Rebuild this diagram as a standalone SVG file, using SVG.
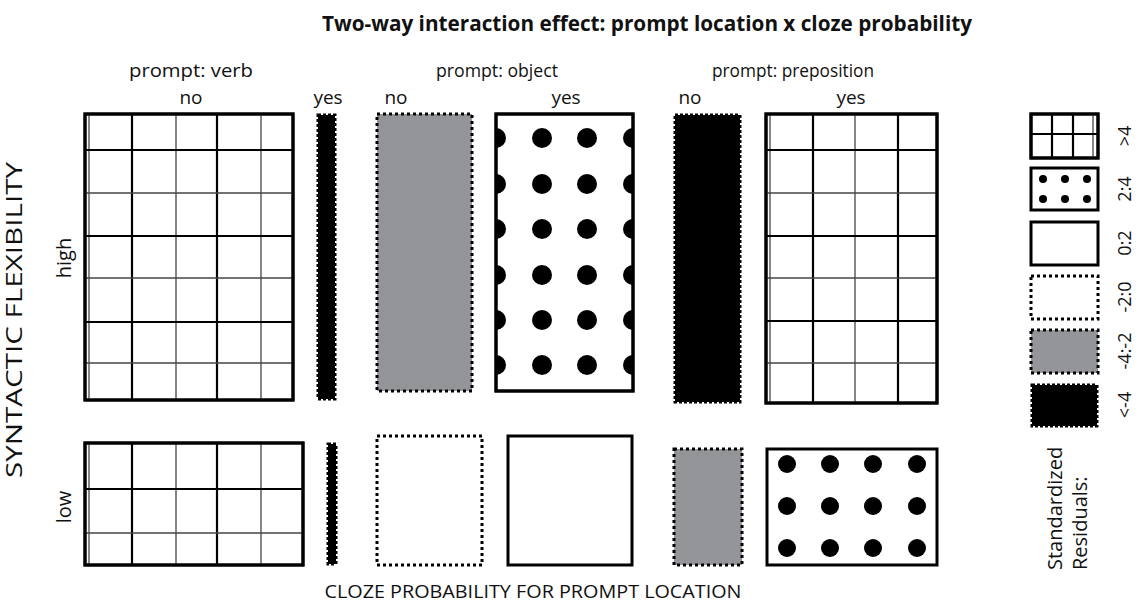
<svg xmlns="http://www.w3.org/2000/svg" width="1139" height="606" viewBox="0 0 1139 606">
<style>
text{font-family:"Open Sans","Liberation Sans",sans-serif;fill:#111}
.title{font-size:22px;font-weight:bold}
.lbl{font-size:18px}
.big{font-size:19px}
.solid{fill:#fff;stroke:#000;stroke-width:3}
.dotted{fill:#fff;stroke:#000;stroke-width:3;stroke-dasharray:3 3}
.grayd{fill:#939598;stroke:#000;stroke-width:3;stroke-dasharray:3 3}
.blackd{fill:#000;stroke:#000;stroke-width:3;stroke-dasharray:3 2}
.thick{stroke:#000;stroke-width:2.2}
.thin{stroke:#444;stroke-width:1.3}
.dot{fill:#000}
</style>
<defs>
<clipPath id="cObjYes"><rect x="496" y="114" width="137" height="277"/></clipPath>
</defs>
<text class="title" x="647" y="31" text-anchor="middle" textLength="650" lengthAdjust="spacingAndGlyphs">Two-way interaction effect: prompt location x cloze probability</text>
<g id="headers">
<text class="big" x="191" y="77" text-anchor="middle" textLength="124" lengthAdjust="spacingAndGlyphs">prompt: verb</text>
<text class="big" x="497" y="77" text-anchor="middle" textLength="122" lengthAdjust="spacingAndGlyphs">prompt: object</text>
<text class="big" x="793" y="77" text-anchor="middle" textLength="162" lengthAdjust="spacingAndGlyphs">prompt: preposition</text>
<text class="big" x="191" y="104" text-anchor="middle">no</text>
<text class="big" x="328" y="104" text-anchor="middle">yes</text>
<text class="big" x="396" y="104" text-anchor="middle">no</text>
<text class="big" x="566" y="104" text-anchor="middle">yes</text>
<text class="big" x="690" y="104" text-anchor="middle">no</text>
<text class="big" x="851" y="104" text-anchor="middle">yes</text>
</g>
<g id="axis-labels">
<text transform="translate(22,320) rotate(-90)" font-size="21" text-anchor="middle" textLength="316" lengthAdjust="spacingAndGlyphs">SYNTACTIC FLEXIBILITY</text>
<text transform="translate(71,258) rotate(-90)" font-size="20" text-anchor="middle">high</text>
<text transform="translate(71,507) rotate(-90)" font-size="20" text-anchor="middle">low</text>
<text class="lbl" x="533" y="598" text-anchor="middle" textLength="417" lengthAdjust="spacingAndGlyphs">CLOZE PROBABILITY FOR PROMPT LOCATION</text>
</g>
<g id="verb-no-high">
<rect class="solid" x="85" y="114" width="208" height="286"/>
<line class="thin" x1="89" y1="114" x2="89" y2="400"/>
<line class="thick" x1="132" y1="114" x2="132" y2="400"/>
<line class="thin" x1="176" y1="114" x2="176" y2="400"/>
<line class="thick" x1="217" y1="114" x2="217" y2="400"/>
<line class="thin" x1="261" y1="114" x2="261" y2="400"/>
<line class="thick" x1="85" y1="150" x2="293" y2="150"/>
<line class="thin" x1="85" y1="193" x2="293" y2="193"/>
<line class="thick" x1="85" y1="236" x2="293" y2="236"/>
<line class="thin" x1="85" y1="278" x2="293" y2="278"/>
<line class="thick" x1="85" y1="322" x2="293" y2="322"/>
<line class="thin" x1="85" y1="363" x2="293" y2="363"/>
<rect x="85" y="114" width="208" height="286" fill="none" stroke="#000" stroke-width="3"/>
</g>
<g id="verb-yes-high"><rect class="blackd" x="318" y="115" width="17" height="284"/></g>
<g id="object-no-high"><rect class="grayd" x="377" y="114" width="95" height="277"/></g>
<g id="object-yes-high">
<rect class="solid" x="496" y="114" width="137" height="277"/>
<g clip-path="url(#cObjYes)">
<circle class="dot" cx="496" cy="138" r="10"/><circle class="dot" cx="542" cy="138" r="10"/><circle class="dot" cx="587" cy="138" r="10"/><circle class="dot" cx="633" cy="138" r="10"/>
<circle class="dot" cx="496" cy="184" r="10"/><circle class="dot" cx="542" cy="184" r="10"/><circle class="dot" cx="587" cy="184" r="10"/><circle class="dot" cx="633" cy="184" r="10"/>
<circle class="dot" cx="496" cy="229" r="10"/><circle class="dot" cx="542" cy="229" r="10"/><circle class="dot" cx="587" cy="229" r="10"/><circle class="dot" cx="633" cy="229" r="10"/>
<circle class="dot" cx="496" cy="275" r="10"/><circle class="dot" cx="542" cy="275" r="10"/><circle class="dot" cx="587" cy="275" r="10"/><circle class="dot" cx="633" cy="275" r="10"/>
<circle class="dot" cx="496" cy="320" r="10"/><circle class="dot" cx="542" cy="320" r="10"/><circle class="dot" cx="587" cy="320" r="10"/><circle class="dot" cx="633" cy="320" r="10"/>
<circle class="dot" cx="496" cy="365" r="10"/><circle class="dot" cx="542" cy="365" r="10"/><circle class="dot" cx="587" cy="365" r="10"/><circle class="dot" cx="633" cy="365" r="10"/>
</g>
<rect x="496" y="114" width="137" height="277" fill="none" stroke="#000" stroke-width="3"/>
</g>
<g id="prep-no-high"><rect class="blackd" x="675" y="115" width="65" height="287"/></g>
<g id="prep-yes-high">
<rect class="solid" x="766" y="114" width="171" height="289"/>
<line class="thin" x1="770" y1="114" x2="770" y2="403"/>
<line class="thick" x1="813" y1="114" x2="813" y2="403"/>
<line class="thin" x1="855" y1="114" x2="855" y2="403"/>
<line class="thick" x1="898" y1="114" x2="898" y2="403"/>
<line class="thick" x1="766" y1="150" x2="937" y2="150"/>
<line class="thin" x1="766" y1="193" x2="937" y2="193"/>
<line class="thick" x1="766" y1="236" x2="937" y2="236"/>
<line class="thin" x1="766" y1="278" x2="937" y2="278"/>
<line class="thick" x1="766" y1="321" x2="937" y2="321"/>
<line class="thin" x1="766" y1="363" x2="937" y2="363"/>
<rect x="766" y="114" width="171" height="289" fill="none" stroke="#000" stroke-width="3"/>
</g>
<g id="verb-no-low">
<rect class="solid" x="85" y="443" width="218" height="122"/>
<line class="thin" x1="89" y1="443" x2="89" y2="565"/>
<line class="thick" x1="132" y1="443" x2="132" y2="565"/>
<line class="thin" x1="176" y1="443" x2="176" y2="565"/>
<line class="thick" x1="217" y1="443" x2="217" y2="565"/>
<line class="thin" x1="261" y1="443" x2="261" y2="565"/>
<line class="thick" x1="85" y1="489" x2="303" y2="489"/>
<line class="thin" x1="85" y1="533" x2="303" y2="533"/>
<rect x="85" y="443" width="218" height="122" fill="none" stroke="#000" stroke-width="3"/>
</g>
<g id="verb-yes-low"><rect class="blackd" x="328" y="444" width="8" height="120"/></g>
<g id="object-no-low"><rect class="dotted" x="377" y="436" width="105" height="129"/></g>
<g id="object-yes-low"><rect class="solid" x="508" y="436" width="124" height="129"/></g>
<g id="prep-no-low"><rect class="grayd" x="674" y="449" width="68" height="116"/></g>
<g id="prep-yes-low">
<rect class="solid" x="767" y="449" width="170" height="116"/>
<circle class="dot" cx="787" cy="464" r="9"/><circle class="dot" cx="830" cy="464" r="9"/><circle class="dot" cx="873" cy="464" r="9"/><circle class="dot" cx="917" cy="464" r="9"/>
<circle class="dot" cx="787" cy="506" r="9"/><circle class="dot" cx="830" cy="506" r="9"/><circle class="dot" cx="873" cy="506" r="9"/><circle class="dot" cx="917" cy="506" r="9"/>
<circle class="dot" cx="787" cy="548" r="9"/><circle class="dot" cx="830" cy="548" r="9"/><circle class="dot" cx="873" cy="548" r="9"/><circle class="dot" cx="917" cy="548" r="9"/>
</g>
<g id="legend">
<g id="legend-gt4">
<rect class="solid" x="1031" y="114" width="67" height="44"/>
<line class="thick" x1="1052" y1="114" x2="1052" y2="158"/>
<line class="thick" x1="1073" y1="114" x2="1073" y2="158"/>
<line class="thin" x1="1093" y1="114" x2="1093" y2="158"/>
<line class="thick" x1="1031" y1="134" x2="1098" y2="134"/>
<rect x="1031" y="114" width="67" height="44" fill="none" stroke="#000" stroke-width="3"/>
</g>
<g id="legend-2to4">
<rect class="solid" x="1031" y="168" width="67" height="42"/>
<circle class="dot" cx="1043" cy="179" r="4"/><circle class="dot" cx="1065" cy="179" r="4"/><circle class="dot" cx="1087" cy="179" r="4"/>
<circle class="dot" cx="1043" cy="199" r="4"/><circle class="dot" cx="1065" cy="199" r="4"/><circle class="dot" cx="1087" cy="199" r="4"/>
</g>
<g id="legend-0to2"><rect class="solid" x="1031" y="222" width="67" height="43"/></g>
<g id="legend-m2to0"><rect class="dotted" x="1031" y="276" width="67" height="43"/></g>
<g id="legend-m4tom2"><rect class="grayd" x="1031" y="330" width="67" height="43"/></g>
<g id="legend-ltm4"><rect class="blackd" x="1032" y="385" width="65" height="41"/></g>
<text class="lbl" transform="translate(1131,136) rotate(-90)" text-anchor="middle">&gt;4</text>
<text class="lbl" transform="translate(1131,189) rotate(-90)" text-anchor="middle">2:4</text>
<text class="lbl" transform="translate(1131,243) rotate(-90)" text-anchor="middle">0:2</text>
<text class="lbl" transform="translate(1131,297) rotate(-90)" text-anchor="middle">-2:0</text>
<text class="lbl" transform="translate(1131,351) rotate(-90)" text-anchor="middle">-4:-2</text>
<text class="lbl" transform="translate(1131,405) rotate(-90)" text-anchor="middle">&lt;-4</text>
<text transform="translate(1062,570) rotate(-90)" font-size="20">Standardized</text>
<text transform="translate(1087,570) rotate(-90)" font-size="20">Residuals:</text>
</g>
</svg>
